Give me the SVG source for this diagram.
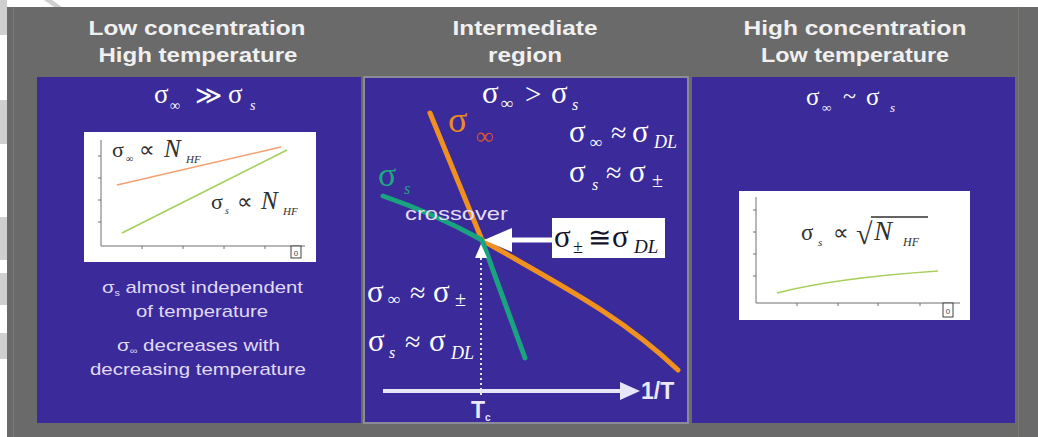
<svg xmlns="http://www.w3.org/2000/svg" width="1038" height="437" viewBox="0 0 1038 437">
<defs>
<style>
.title{font-family:"Liberation Sans",Arial,sans-serif;font-weight:bold;font-size:21px;fill:#f0f0f0;text-anchor:middle}
.panel{fill:#3a2a9a}
.m{font-family:"Liberation Serif","Times New Roman",serif;fill:#ffffff}
.it{font-style:italic}
.note{font-family:"Liberation Sans",Arial,sans-serif;font-size:17px;fill:#e0daf6}
.dk{fill:#303030}
.or{fill:#ec8a20}
.rd{fill:#d8562a}
.gr{fill:#20a682}
.bk{fill:#141428}
.chart{fill:#ffffff}
.axis{stroke:#707070;stroke-width:1;fill:none}
.wm{fill:#cfcfcf}
</style>
</defs>
<rect width="1038" height="437" fill="#ffffff"/>
<g id="watermark">
<rect class="wm" x="0" y="0" width="7" height="35"/>
<rect class="wm" x="0" y="100" width="7" height="44"/>
<rect class="wm" x="0" y="217" width="7" height="43"/>
<rect class="wm" x="0" y="273" width="7" height="32"/>
<rect class="wm" x="0" y="333" width="7" height="26"/>
<polygon class="wm" points="44,0 52,0 62,7 54,7"/>
</g>
<g id="frame">
<rect x="7" y="7" width="1031" height="430" fill="#6a6a6a"/>
<line x1="13.5" y1="7" x2="13.5" y2="437" stroke="#7a7a7a" stroke-width="1"/>
<line x1="1018.5" y1="7" x2="1018.5" y2="437" stroke="#787870" stroke-width="1"/>
</g>

<g id="panel-left">
<text class="title" x="197" y="35" textLength="217" lengthAdjust="spacingAndGlyphs">Low concentration</text>
<text class="title" x="198" y="62" textLength="199" lengthAdjust="spacingAndGlyphs">High temperature</text>
<rect class="panel" x="37" y="77" width="324" height="346"/>
<text class="m" y="103" font-size="27"><tspan x="154">σ</tspan><tspan x="170" y="110" font-size="14" class="it">∞</tspan><tspan x="195" y="104" font-size="26">≫</tspan><tspan x="228" y="103">σ</tspan><tspan x="250" y="110" font-size="14" class="it">s</tspan></text>
<rect class="chart" x="84" y="132" width="232" height="130"/>
<path class="axis" d="M101,140 V246 H305 M98,156 H101 M98,178 H101 M98,200 H101 M98,222 H101 M142,246 V249 M183,246 V249 M224,246 V249 M265,246 V249"/>
<rect x="291" y="246" width="10" height="12" fill="#ffffff" stroke="#404040" stroke-width="1"/>
<text x="296" y="256" font-family="Liberation Sans,Arial,sans-serif" font-size="8" fill="#404040" text-anchor="middle">0</text>
<line x1="117" y1="185" x2="281" y2="147" stroke="#f4a072" stroke-width="1.6"/>
<line x1="122" y1="233" x2="287" y2="150" stroke="#a6cf5a" stroke-width="1.6"/>
<text class="m dk" y="157" font-size="22"><tspan x="112">σ</tspan><tspan x="126" y="162" font-size="10" class="it">∞</tspan><tspan x="139" y="157" font-size="22">∝</tspan><tspan x="164" font-size="25" class="it">N</tspan><tspan x="186" y="163" font-size="11" class="it">HF</tspan></text>
<text class="m dk" y="209" font-size="22"><tspan x="211">σ</tspan><tspan x="225" y="214" font-size="10" class="it">s</tspan><tspan x="237" y="209" font-size="22">∝</tspan><tspan x="261" font-size="25" class="it">N</tspan><tspan x="283" y="215" font-size="11" class="it">HF</tspan></text>
<text class="note" x="102" y="293" textLength="201" lengthAdjust="spacingAndGlyphs">σ<tspan font-size="9" dy="3">s</tspan><tspan dy="-3"> almost independent</tspan></text>
<text class="note" x="136" y="317" textLength="132" lengthAdjust="spacingAndGlyphs">of temperature</text>
<text class="note" x="117" y="351" textLength="163" lengthAdjust="spacingAndGlyphs">σ<tspan font-size="9" dy="3">∞</tspan><tspan dy="-3"> decreases with</tspan></text>
<text class="note" x="90" y="375" textLength="216" lengthAdjust="spacingAndGlyphs">decreasing temperature</text>
</g>

<g id="panel-middle">
<text class="title" x="525" y="35" textLength="145" lengthAdjust="spacingAndGlyphs">Intermediate</text>
<text class="title" x="525" y="62" textLength="74" lengthAdjust="spacingAndGlyphs">region</text>
<rect class="panel" x="364" y="77" width="324" height="346" stroke="#8a8a9a" stroke-width="2"/>
<text class="m" y="103" font-size="31"><tspan x="482">σ</tspan><tspan x="501" y="109" font-size="17" class="it">∞</tspan><tspan x="525" y="104" font-size="29">&gt;</tspan><tspan x="551" y="103">σ</tspan><tspan x="572" y="110" font-size="16" class="it">s</tspan></text>
<text class="m or" y="132" font-size="36"><tspan x="448">σ</tspan><tspan x="476" y="144" font-size="24" class="rd it">∞</tspan></text>
<text class="m gr" y="186" font-size="34"><tspan x="378">σ</tspan><tspan x="404" y="194" font-size="16" class="it">s</tspan></text>
<text class="m" y="142" font-size="31"><tspan x="569">σ</tspan><tspan x="590" y="148" font-size="17" class="it">∞</tspan><tspan x="611" y="142" font-size="28">≈</tspan><tspan x="632" y="142">σ</tspan><tspan x="654" y="148" font-size="18" class="it">DL</tspan></text>
<text class="m" y="182" font-size="31"><tspan x="569">σ</tspan><tspan x="592" y="190" font-size="16" class="it">s</tspan><tspan x="606" y="182" font-size="28">≈</tspan><tspan x="629" y="182">σ</tspan><tspan x="652" y="187" font-size="20">±</tspan></text>
<text class="m" y="302" font-size="31"><tspan x="367">σ</tspan><tspan x="388" y="305" font-size="17" class="it">∞</tspan><tspan x="410" y="302" font-size="28">≈</tspan><tspan x="433" y="302">σ</tspan><tspan x="455" y="306" font-size="20">±</tspan></text>
<text class="m" y="351" font-size="31"><tspan x="368">σ</tspan><tspan x="389" y="358" font-size="16" class="it">s</tspan><tspan x="405" y="351" font-size="28">≈</tspan><tspan x="429" y="351">σ</tspan><tspan x="451" y="359" font-size="18" class="it">DL</tspan></text>
<rect x="552" y="218" width="113" height="40" fill="#ffffff"/>
<text class="m bk" y="247" font-size="31"><tspan x="554">σ</tspan><tspan x="573" y="253" font-size="18">±</tspan><tspan x="588" y="247" font-size="28">≅</tspan><tspan x="612" y="247">σ</tspan><tspan x="634" y="253" font-size="19" class="it">DL</tspan></text>
<text x="641" y="399" font-family="Liberation Sans,Arial,sans-serif" font-weight="bold" font-size="23" fill="#ece8fa">1/T</text>
<text x="471" y="418" font-family="Liberation Sans,Arial,sans-serif" font-weight="bold" font-size="23" fill="#ece8fa">T<tspan font-size="10" dy="3">c</tspan></text>
</g>

<g id="panel-right">
<text class="title" x="855" y="35" textLength="223" lengthAdjust="spacingAndGlyphs">High concentration</text>
<text class="title" x="855" y="62" textLength="188" lengthAdjust="spacingAndGlyphs">Low temperature</text>
<rect class="panel" x="692" y="77" width="323" height="346"/>
<text class="m" y="105" font-size="25"><tspan x="806">σ</tspan><tspan x="822" y="112" font-size="13" class="it">∞</tspan><tspan x="843" y="104" font-size="24">~</tspan><tspan x="866" y="105">σ</tspan><tspan x="890" y="112" font-size="13" class="it">s</tspan></text>
<rect class="chart" x="739" y="191" width="231" height="129"/>
<path class="axis" d="M756,197 V303 H960 M753,210 H756 M753,232 H756 M753,254 H756 M753,276 H756 M797,303 V306 M838,303 V306 M878,303 V306 M920,303 V306"/>
<rect x="943" y="303" width="10" height="14" fill="#ffffff" stroke="#404040" stroke-width="1"/>
<text x="948" y="314" font-family="Liberation Sans,Arial,sans-serif" font-size="8" fill="#404040" text-anchor="middle">0</text>
<path d="M777,293 Q835,278 938,271" fill="none" stroke="#a6cf5a" stroke-width="1.6"/>
<text class="m dk" y="240" font-size="23"><tspan x="801">σ</tspan><tspan x="818" y="246" font-size="11" class="it">s</tspan><tspan x="833" y="240" font-size="22">∝</tspan><tspan x="856" y="244" font-size="30">√</tspan><tspan x="874" y="240" font-size="27" class="it">N</tspan><tspan x="903" y="246" font-size="12" class="it">HF</tspan></text>
<line x1="871" y1="217" x2="928" y2="217" stroke="#303030" stroke-width="1.3"/>
</g>

<g id="connectors">
<path d="M430,113 L482,240" fill="none" stroke="#f0901e" stroke-width="5" stroke-linecap="round"/>
<path d="M482,240 C560,285 620,315 678,370" fill="none" stroke="#f0901e" stroke-width="5" stroke-linecap="round"/>
<path d="M383,196 Q433,213 482,240 L525,358" fill="none" stroke="#1aa37f" stroke-width="5" stroke-linecap="round" stroke-linejoin="round"/>
<line x1="481" y1="258" x2="481" y2="398" stroke="#e8e4fa" stroke-width="2" stroke-dasharray="2 3"/>
<polygon points="481,244 475,258 487,258" fill="#ffffff"/>
<line x1="552" y1="240" x2="508" y2="240" stroke="#ffffff" stroke-width="5"/>
<polygon points="484,240 512,228 512,252" fill="#ffffff"/>
<line x1="383" y1="391" x2="624" y2="391" stroke="#e8e4fa" stroke-width="4"/>
<polygon points="640,391 620,382 620,400" fill="#e8e4fa"/>
</g>

<g id="crossover-label">
<text x="405" y="220" font-family="Liberation Sans,Arial,sans-serif" font-size="19" fill="#e4def8" textLength="103" lengthAdjust="spacingAndGlyphs">crossover</text>
</g>
</svg>
